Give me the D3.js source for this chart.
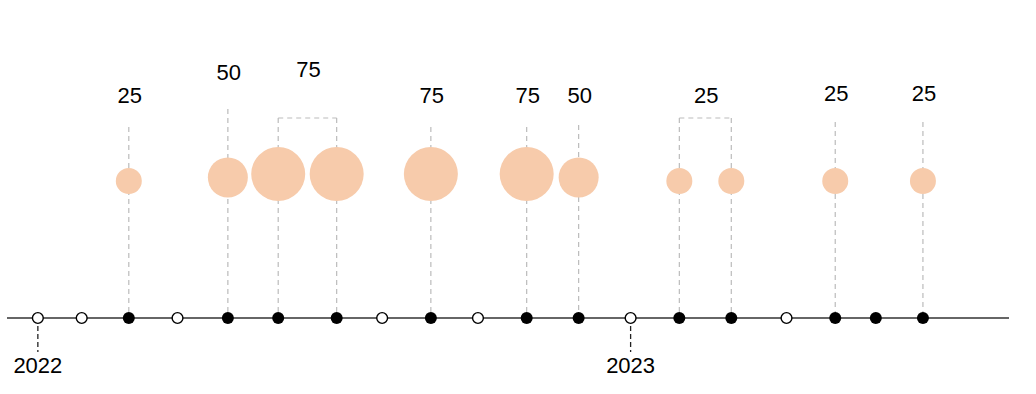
<!DOCTYPE html>
<html>
<head>
<meta charset="utf-8">
<script src="https://cdn.jsdelivr.net/npm/d3@7"></script>
<style>
    body { margin: 0; background: #fff; }
    svg { display: block; font-family: Arial, "Liberation Sans", sans-serif; }
</style>
</head>
<body>
<div id="chart"></div>
<script>
// timeline range and year marks
var axisDates = ['2021-12-13', '2023-08-22'];
var yearDates = ['2022-01-01', '2023-01-01'];
var yearLabels = ['2022', '2023'];

// dates on the timeline without an event
var emptyDates = ['2022-01-28', '2022-03-28', '2022-08-01', '2022-09-29', '2023-04-07'];
// dates on the timeline with a dot but no bubble
var plainDates = ['2023-06-01'];

// events: each entry is a list of dates sharing one value
var eventDates = [
    ['2022-02-26'],
    ['2022-04-28'],
    ['2022-05-29', '2022-07-04'],
    ['2022-08-31'],
    ['2022-10-29'],
    ['2022-11-30'],
    ['2023-01-31', '2023-03-04'],
    ['2023-05-07'],
    ['2023-06-30']
];
var eventValues = [25, 50, 75, 75, 75, 50, 25, 25, 25];

// label baseline and top of the leader line for each event (layout only)
var labelYs = [103, 80, 77, 103, 103, 103, 103, 101, 101];
var lineTops = [127, 109, 118, 127, 127, 125, 118, 122, 122];

var width = 1036,
    height = 394,
    axisY = 318,
    parse = d3.utcParse('%Y-%m-%d'),
    svg, x, r, events;

svg = d3.select('#chart').append('svg')
    .attr('width', width)
    .attr('height', height);

x = d3.scaleUtc()
    .domain(axisDates.map(parse))
    .range([7, 1009]);

r = d3.scaleLinear()
    .domain([0, 75])
    .range([6, 27]);

events = eventDates.map(function (dates, i) {
    var xs = dates.map(function (d) { return x(parse(d)); });
    return {
        xs: xs,
        mid: d3.mean(xs),
        value: eventValues[i],
        labelY: labelYs[i],
        top: lineTops[i]
    };
});

// leader lines
var leaders = svg.append('g')
    .attr('fill', 'none')
    .attr('stroke', '#bbb')
    .attr('stroke-width', 1.2)
    .attr('stroke-dasharray', '5,4');

events.forEach(function (e) {
    e.xs.forEach(function (px) {
        leaders.append('line')
            .attr('x1', px).attr('x2', px)
            .attr('y1', e.top).attr('y2', axisY);
    });
    if (e.xs.length > 1) {
        leaders.append('line')
            .attr('x1', e.xs[0]).attr('x2', e.xs[e.xs.length - 1])
            .attr('y1', e.top).attr('y2', e.top);
    }
});

// bubbles
events.forEach(function (e) {
    e.xs.forEach(function (px) {
        svg.append('circle')
            .attr('cx', px)
            .attr('cy', 187.5 - r(e.value) / 2)
            .attr('r', r(e.value))
            .attr('fill', '#f7cbab');
    });
});

// value labels
svg.append('g').selectAll('text')
    .data(events)
    .enter().append('text')
    .attr('x', function (d) { return d.mid + 1; })
    .attr('y', function (d) { return d.labelY; })
    .attr('text-anchor', 'middle')
    .attr('font-size', 22)
    .attr('fill', '#000')
    .text(function (d) { return d.value; });

// year ticks
svg.append('g').selectAll('line')
    .data(yearDates)
    .enter().append('line')
    .attr('x1', function (d) { return x(parse(d)); })
    .attr('x2', function (d) { return x(parse(d)); })
    .attr('y1', axisY)
    .attr('y2', 352)
    .attr('stroke', '#222')
    .attr('stroke-width', 1.3)
    .attr('stroke-dasharray', '5,3');

svg.append('g').selectAll('text')
    .data(yearDates)
    .enter().append('text')
    .attr('x', function (d) { return x(parse(d)); })
    .attr('y', 373)
    .attr('text-anchor', 'middle')
    .attr('font-size', 22)
    .attr('fill', '#000')
    .text(function (d, i) { return yearLabels[i]; });

// main axis line
svg.append('line')
    .attr('x1', x.range()[0]).attr('x2', x.range()[1])
    .attr('y1', axisY).attr('y2', axisY)
    .attr('stroke', '#333')
    .attr('stroke-width', 1.4);

// open dots
svg.append('g').selectAll('circle')
    .data(yearDates.concat(emptyDates))
    .enter().append('circle')
    .attr('cx', function (d) { return x(parse(d)); })
    .attr('cy', axisY)
    .attr('r', 5.4)
    .attr('fill', '#fff')
    .attr('stroke', '#000')
    .attr('stroke-width', 1.4);

// filled dots
var filled = plainDates.slice();
eventDates.forEach(function (dates) { filled = filled.concat(dates); });

svg.append('g').selectAll('circle')
    .data(filled)
    .enter().append('circle')
    .attr('cx', function (d) { return x(parse(d)); })
    .attr('cy', axisY)
    .attr('r', 6)
    .attr('fill', '#000');
</script>
</body>
</html>
